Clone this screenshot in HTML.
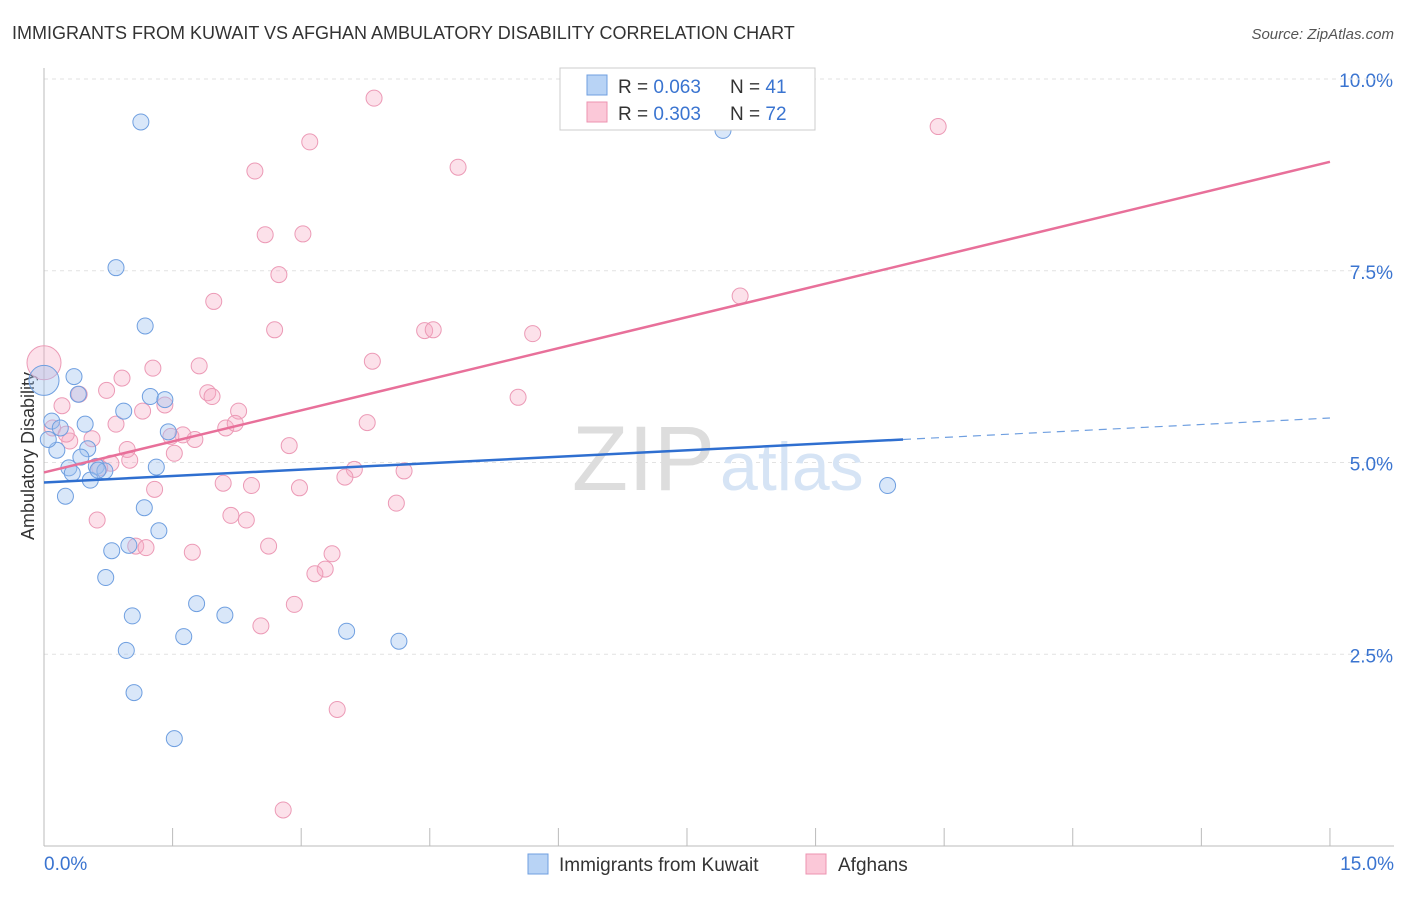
<!DOCTYPE html>
<html><head><meta charset="utf-8"><style>
body{margin:0;background:#fff;font-family:"Liberation Sans",sans-serif}
svg text{font-family:"Liberation Sans",sans-serif}
</style></head><body>
<svg width="1406" height="892" viewBox="0 0 1406 892">
<text x="12" y="39" font-size="18" fill="#333">IMMIGRANTS FROM KUWAIT VS AFGHAN AMBULATORY DISABILITY CORRELATION CHART</text>
<text x="1394" y="39" font-size="15" fill="#555" font-style="italic" text-anchor="end">Source: ZipAtlas.com</text>
<g id="grid"></g>
<text x="34" y="456" font-size="18" fill="#333" text-anchor="middle" transform="rotate(-90 34 456)">Ambulatory Disability</text>
<text x="715" y="490" font-size="92" fill="#ddd" text-anchor="end">ZIP</text>
<text x="720" y="490" font-size="68" fill="#d6e4f5">atlas</text>
<g id="pts"></g>
<g id="lines"></g>
<g>
<rect x="560" y="68" width="255" height="62" fill="#fff" stroke="#ccc"/>
<rect x="587" y="75" width="20" height="20" fill="#b8d3f5" stroke="#6f9fe0"/>
<rect x="587" y="102" width="20" height="20" fill="#fbc8d8" stroke="#ec93b1"/>
<text x="618" y="93" font-size="19" fill="#333">R = <tspan fill="#3a74d0">0.063</tspan></text>
<text x="730" y="93" font-size="19" fill="#333">N = <tspan fill="#3a74d0">41</tspan></text>
<text x="618" y="120" font-size="19" fill="#333">R = <tspan fill="#3a74d0">0.303</tspan></text>
<text x="730" y="120" font-size="19" fill="#333">N = <tspan fill="#3a74d0">72</tspan></text>
</g>
<g>
<rect x="528" y="854" width="20" height="20" fill="#b8d3f5" stroke="#6f9fe0"/>
<text x="559" y="871" font-size="19" fill="#333">Immigrants from Kuwait</text>
<rect x="806" y="854" width="20" height="20" fill="#fbc8d8" stroke="#ec93b1"/>
<text x="838" y="871" font-size="19" fill="#333">Afghans</text>
</g>
</svg>
<script>
const xTicks=[0,1.5,3,4.5,6,7.5,9,10.5,12,13.5,15];
const yTicks=[2.5,5,7.5,10];
const yTickLabels=["2.5%","5.0%","7.5%","10.0%"];
const kuwaitX=[1.13,7.92,0.84,1.18,0.35,0,0.40,1.24,1.41,0.93,0.48,0.09,1.45,0.19,0.15,0.51,0.43,0.29,0.61,0.33,0.71,1.31,0.54,0.25,1.17,1.34,0.99,0.79,0.72,1.78,1.03,2.11,1.63,3.53,4.14,0.96,1.05,1.52,9.84,0.05,0.63];
const kuwaitY=[9.44,9.33,7.54,6.78,6.12,6.07,5.89,5.86,5.82,5.67,5.50,5.54,5.40,5.45,5.16,5.18,5.07,4.93,4.95,4.86,4.89,4.94,4.77,4.56,4.41,4.11,3.92,3.85,3.50,3.16,3.00,3.01,2.73,2.80,2.67,2.55,2.00,1.40,4.70,5.30,4.90];
const afgX=[3.85,10.43,3.10,4.83,2.46,2.58,3.02,2.74,1.98,8.12,2.69,4.44,4.54,5.70,3.83,0,1.27,1.81,0.91,0.73,1.91,1.96,5.53,0.21,1.41,1.15,2.27,3.77,0.84,0.10,2.12,2.23,1.62,1.48,1.76,0.56,0.30,2.86,0.97,1.52,1.00,0.78,3.62,4.20,3.51,2.09,2.42,2.98,1.29,0.62,2.18,2.36,4.11,1.07,1.19,2.62,1.73,3.36,3.28,3.16,2.92,2.53,3.42,2.79,0.41,0.26,0.65];
const afgY=[9.75,9.38,9.18,8.85,8.80,7.97,7.98,7.45,7.10,7.17,6.73,6.72,6.73,6.68,6.32,6.30,6.23,6.26,6.10,5.94,5.91,5.86,5.85,5.74,5.75,5.67,5.67,5.52,5.50,5.45,5.45,5.51,5.36,5.34,5.30,5.31,5.28,5.22,5.17,5.12,5.03,4.99,4.91,4.89,4.81,4.73,4.70,4.67,4.65,4.25,4.31,4.25,4.47,3.91,3.89,3.91,3.83,3.81,3.61,3.55,3.15,2.87,1.78,0.47,5.89,5.37,4.93];
const kuwaitFit=[4.74,5.30,5.58];
const afgFit=[4.87,8.92];
const X=v=>44+v*85.73, Y=v=>846-v*76.7;
const NS="http://www.w3.org/2000/svg";
function mk(tag,attrs,parent){const e=document.createElementNS(NS,tag);for(const k in attrs)e.setAttribute(k,attrs[k]);parent.appendChild(e);return e;}
const grid=document.getElementById('grid');
for(let i=0;i<yTicks.length;i++){
 const l=mk('line',{x1:44,x2:1394,y1:Y(yTicks[i]),y2:Y(yTicks[i]),stroke:'#e2e2e2','stroke-dasharray':'4 4'},grid);
 
 
 const t=mk('text',{x:1393,y:Y(yTicks[i])+8,'font-size':19,fill:'#3a74d0','text-anchor':'end'},grid);
 t.textContent=yTickLabels[i];
 
 
}
const topGrid=mk('line',{x1:44,x2:1394,y1:79,y2:79,stroke:'#e2e2e2','stroke-dasharray':'4 4'},grid);


const yAxis=mk('line',{x1:44,x2:44,y1:68,y2:846,stroke:'#bbb'},grid);


const xAxis=mk('line',{x1:44,x2:1394,y1:846,y2:846,stroke:'#bbb'},grid);


for(const v of xTicks){
 const t=mk('line',{x1:X(v),x2:X(v),y1:828,y2:846,stroke:'#bbb'},grid);
 
 
}
const xl=mk('text',{x:44,y:870,'font-size':19,fill:'#3a74d0'},grid);xl.textContent='0.0%';


const xr=mk('text',{x:1394,y:870,'font-size':19,fill:'#3a74d0','text-anchor':'end'},grid);xr.textContent='15.0%';


const pts=document.getElementById('pts');
for(let i=0;i<afgX.length;i++){
 const c=mk('circle',{cx:X(afgX[i]),cy:Y(afgY[i]),r:afgX[i]===0?17:8,fill:'rgba(245,170,195,0.35)',stroke:'#ec9ab6','stroke-width':1},pts);
 
 
}
for(let i=0;i<kuwaitX.length;i++){
 const c=mk('circle',{cx:X(kuwaitX[i]),cy:Y(kuwaitY[i]),r:kuwaitX[i]===0?15:8,fill:'rgba(160,195,240,0.4)',stroke:'#6f9fe0','stroke-width':1},pts);
 
 
}
const ln=document.getElementById('lines');
const a=mk('line',{x1:X(0),y1:Y(afgFit[0]),x2:X(15),y2:Y(afgFit[1]),stroke:'#e8709a','stroke-width':2.5},ln);


const b=mk('line',{x1:X(0),y1:Y(kuwaitFit[0]),x2:X(10.02),y2:Y(kuwaitFit[1]),stroke:'#2f6fd0','stroke-width':2.5},ln);


const d=mk('line',{x1:X(10.02),y1:Y(kuwaitFit[1]),x2:X(15),y2:Y(kuwaitFit[2]),stroke:'#6f9fe0','stroke-width':1.2,'stroke-dasharray':'8 6'},ln);


</script>
</body></html>
